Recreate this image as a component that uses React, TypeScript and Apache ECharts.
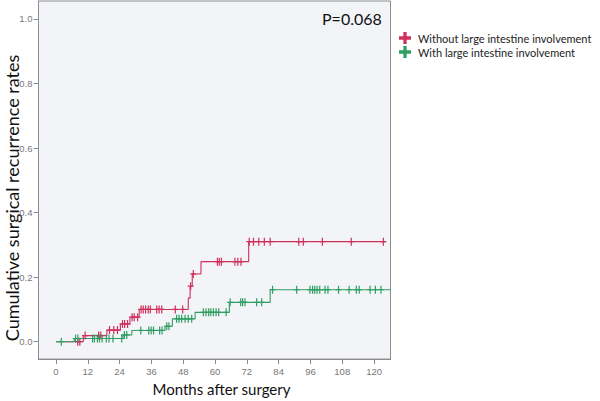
import React, { useEffect, useRef } from 'react';
import * as echarts from 'echarts';

const monthTicks = [0, 12, 24, 36, 48, 60, 72, 84, 96, 108, 120];
const rateTicks = [0, 0.2, 0.4, 0.6, 0.8, 1.0];

const seriesNames = ['Without large intestine involvement', 'With large intestine involvement'];
const pValueText = 'P=0.068';

// Without large intestine involvement (red)
const redStepTimes = [0, 10.3, 19.2, 24.3, 27.9, 31.4, 49.9, 50.6, 51.4, 54.7, 72.7, 124.5];
const redStepRates = [0, 0.019, 0.036, 0.055, 0.076, 0.1, 0.135, 0.172, 0.21, 0.248, 0.31, 0.31];
const redCensorTimes = [
  8.2, 9.0, 11.0, 16.1, 16.9, 20.2, 21.8, 23.2, 25.1, 25.9, 27.0, 28.7, 29.5, 30.8,
  32.1, 32.9, 33.8, 34.8, 35.6, 38.0, 38.9, 39.9, 45.0, 47.8, 50.8, 51.8,
  60.9, 61.6, 62.4, 67.5, 68.6, 69.8, 72.9, 74.5, 76.5, 78.6, 80.8, 91.6, 93.3, 100.5, 111.4, 123.5,
];
const redCensorRates = [
  0, 0, 0.019, 0.019, 0.019, 0.036, 0.036, 0.036, 0.055, 0.055, 0.055, 0.076, 0.076, 0.076,
  0.1, 0.1, 0.1, 0.1, 0.1, 0.1, 0.1, 0.1, 0.1, 0.1, 0.172, 0.21,
  0.248, 0.248, 0.248, 0.248, 0.248, 0.248, 0.31, 0.31, 0.31, 0.31, 0.31, 0.31, 0.31, 0.31, 0.31, 0.31,
];

// With large intestine involvement (green)
const greenStepTimes = [0, 6.9, 25.3, 28.6, 41.1, 43.9, 52.5, 65.4, 80.8, 126.2];
const greenStepRates = [0, 0.01, 0.021, 0.035, 0.048, 0.071, 0.091, 0.122, 0.161, 0.161];
const greenCensorTimes = [
  2.0, 7.4, 8.3, 13.8, 14.5, 15.6, 16.4, 17.4, 19.0, 20.0, 21.5, 24.8, 25.8, 26.7,
  32.0, 35.0, 35.9, 36.8, 39.1, 40.0, 41.8, 42.6, 45.5, 46.4, 47.4, 48.7, 49.9, 51.2,
  55.6, 56.6, 57.6, 58.4, 59.4, 60.4, 61.4, 64.2, 65.7, 69.7, 70.4, 71.3, 75.7, 77.6,
  81.7, 90.8, 95.8, 96.8, 97.6, 98.5, 99.5, 101.5, 102.6, 106.6, 110.6, 113.3, 114.4, 118.5, 120.5, 122.6,
];
const greenCensorRates = [
  0, 0.01, 0.01, 0.01, 0.01, 0.01, 0.01, 0.01, 0.01, 0.01, 0.01, 0.01, 0.021, 0.021,
  0.035, 0.035, 0.035, 0.035, 0.035, 0.035, 0.048, 0.048, 0.071, 0.071, 0.071, 0.071, 0.071, 0.071,
  0.091, 0.091, 0.091, 0.091, 0.091, 0.091, 0.091, 0.091, 0.122, 0.122, 0.122, 0.122, 0.122, 0.122,
  0.161, 0.161, 0.161, 0.161, 0.161, 0.161, 0.161, 0.161, 0.161, 0.161, 0.161, 0.161, 0.161, 0.161, 0.161, 0.161,
];

const RED = '#cf2f5b';
const GREEN = '#2f9e62';
const CENSOR = 'path://M2.4,0H3.6V3.4H6V4.6H3.6V8H2.4V4.6H0V3.4H2.4Z';
const LEGEND_ICON = 'path://M4,0H7V4H11V7H7V11H4V7H0V4H4Z';

const zip = (a: number[], b: number[]) => a.map((v, i) => [v, b[i]]);

export default function App() {
  const ref = useRef<HTMLDivElement>(null);
  useEffect(() => {
    const chart = echarts.init(ref.current!, null, { renderer: 'svg' });
    const axisCommon = {
      type: 'value' as const,
      splitLine: { show: false },
      axisLine: { show: true, onZero: false, lineStyle: { color: '#8c8c8c', width: 1 } },
      axisTick: { show: true, length: 5, lineStyle: { color: '#8c8c8c' } },
      axisLabel: { color: '#777', fontSize: 9.5, fontFamily: 'Liberation Sans' },
    };
    chart.setOption({
      animation: false,
      backgroundColor: '#ffffff',
      grid: {
        left: 38.5,
        top: 1,
        width: 352,
        height: 360.5,
        show: true,
        backgroundColor: '#f3f4f8',
        borderColor: '#8c8c8c',
        borderWidth: 1,
      },
      xAxis: {
        ...axisCommon,
        min: -6.6,
        max: 126.2,
        axisTick: { ...axisCommon.axisTick, customValues: monthTicks },
        axisLabel: { ...axisCommon.axisLabel, margin: 7, customValues: monthTicks },
        name: 'Months after surgery',
        nameLocation: 'middle',
        nameGap: 21,
        nameTextStyle: { fontFamily: 'Lato', fontSize: 15, color: '#111', padding: [0, 0, 0, 14] },
      },
      yAxis: {
        ...axisCommon,
        min: -0.0538,
        max: 1.0554,
        axisTick: { ...axisCommon.axisTick, customValues: rateTicks },
        axisLabel: {
          ...axisCommon.axisLabel,
          margin: 6,
          customValues: rateTicks,
          formatter: (v: number) => v.toFixed(1),
        },
      },
      legend: {
        orient: 'vertical',
        left: 394,
        top: 27,
        itemWidth: 12,
        itemHeight: 12,
        itemGap: 2,
        textStyle: { fontFamily: 'Lato', fontSize: 11, color: '#222', padding: [0, 0, 0, 2] },
        data: [
          { name: seriesNames[0], icon: LEGEND_ICON },
          { name: seriesNames[1], icon: LEGEND_ICON },
        ],
      },
      graphic: [
        {
          type: 'text',
          x: 322,
          y: 18,
          style: {
            text: pValueText,
            fontFamily: 'Lato',
            fontSize: 16,
            fill: '#111',
            textVerticalAlign: 'middle',
          },
        },
        {
          type: 'text',
          x: 12,
          y: 198,
          rotation: Math.PI / 2,
          style: {
            text: 'Cumulative surgical recurrence rates',
            fontFamily: 'Lato',
            fontSize: 18,
            fill: '#111',
            textAlign: 'center',
            textVerticalAlign: 'middle',
          },
        },
      ],
      series: [
        {
          name: 'red-line',
          type: 'line',
          step: 'end',
          symbol: 'none',
          data: zip(redStepTimes, redStepRates),
          lineStyle: { color: RED, width: 1.1 },
          itemStyle: { color: RED },
          z: 2,
        },
        {
          name: 'green-line',
          type: 'line',
          step: 'end',
          symbol: 'none',
          data: zip(greenStepTimes, greenStepRates),
          lineStyle: { color: GREEN, width: 1.1 },
          itemStyle: { color: GREEN },
          z: 3,
        },
        {
          name: seriesNames[0],
          type: 'scatter',
          symbol: CENSOR,
          symbolSize: [6, 8],
          data: zip(redCensorTimes, redCensorRates),
          itemStyle: { color: RED, opacity: 1 },
          z: 4,
        },
        {
          name: seriesNames[1],
          type: 'scatter',
          symbol: CENSOR,
          symbolSize: [6, 8],
          data: zip(greenCensorTimes, greenCensorRates),
          itemStyle: { color: GREEN, opacity: 1 },
          z: 5,
        },
      ],
    });
    return () => chart.dispose();
  }, []);
  return (
    <div
      ref={ref}
      style={{ position: 'absolute', left: 0, top: 0, width: 600, height: 401 }}
    />
  );
}
